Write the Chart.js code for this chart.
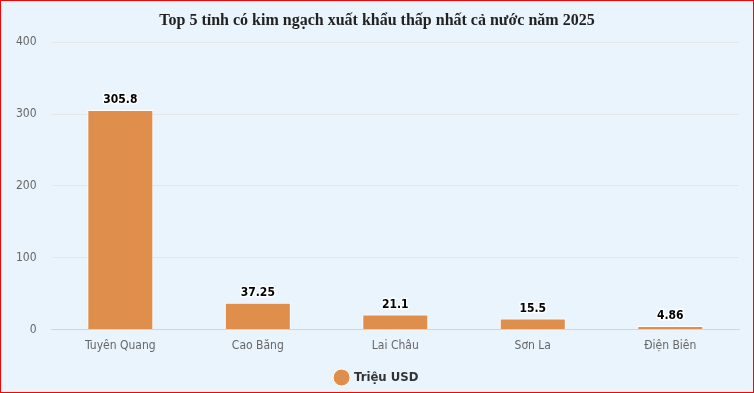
<!DOCTYPE html>
<html>
<head>
<meta charset="utf-8">
<script src="https://cdn.jsdelivr.net/npm/chart.js@4"></script>
<style>
  html, body { margin: 0; padding: 0; }
  body { width: 754px; height: 393px; box-sizing: border-box; border: 1px solid #ff0000; background: #eaf4fd; overflow: hidden; }
  #wrap { width: 752px; height: 393px; }
</style>
</head>
<body>
<div id="wrap"><canvas id="myChart"></canvas></div>
<script>
// DATA
var provinces = ['Tuyên Quang', 'Cao Băng', 'Lai Châu', 'Sơn La', 'Điện Biên'];
var exportValues = [305.8, 37.25, 21.1, 15.5, 4.86];
var yTicks = [0, 100, 200, 300, 400];

var sansFont = '"DejaVu Sans Condensed", "Liberation Sans", sans-serif';

// value labels above bars
var valueLabels = {
  id: 'valueLabels',
  afterDatasetsDraw: function(chart) {
    var c = chart.ctx;
    var meta = chart.getDatasetMeta(0);
    c.save();
    c.font = 'bold 12px ' + sansFont;
    c.textAlign = 'center';
    c.textBaseline = 'bottom';
    c.lineJoin = 'round';
    meta.data.forEach(function(bar, i) {
      var txt = String(chart.data.datasets[0].data[i]);
      c.lineWidth = 3;
      c.strokeStyle = '#ffffff';
      c.strokeText(txt, bar.x, bar.y - 4);
      c.fillStyle = '#000000';
      c.fillText(txt, bar.x, bar.y - 4);
    });
    c.restore();
  }
};

var ctx = document.getElementById('myChart').getContext('2d');

var chart = new Chart(ctx, {
  type: 'bar',
  data: {
    labels: provinces,
    datasets: [{
      label: 'Triệu USD',
      data: exportValues,
      backgroundColor: '#e08e4b',
      borderColor: '#ffffff',
      borderWidth: 1,
      barPercentage: 0.48,
      categoryPercentage: 1
    }]
  },
  options: {
    responsive: true,
    maintainAspectRatio: false,
    animation: false,
    layout: { padding: { left: 14, right: 14, top: 4, bottom: 0 } },
    plugins: {
      title: {
        display: true,
        text: 'Top 5 tỉnh có kim ngạch xuất khẩu thấp nhất cả nước năm 2025',
        color: '#222222',
        font: { family: '"Liberation Serif", serif', size: 16, weight: 'bold' },
        padding: { top: 6, bottom: 12 }
      },
      legend: {
        position: 'bottom',
        labels: {
          usePointStyle: true,
          pointStyle: 'circle',
          boxWidth: 12,
          boxHeight: 12,
          color: '#333333',
          font: { family: sansFont, size: 13, weight: 'bold' },
          padding: 3
        }
      },
      tooltip: { enabled: false }
    },
    scales: {
      x: {
        grid: { display: false },
        border: { color: '#ccd6eb' },
        ticks: { color: '#666666', font: { family: sansFont, size: 12 }, padding: 1 },
        afterFit: function(axis) { axis.height += 14; }
      },
      y: {
        min: 0,
        max: 400,
        afterBuildTicks: function(axis) {
          axis.ticks = yTicks.map(function(v) { return { value: v }; });
        },
        afterFit: function(axis) { axis.width -= 14; },
        grid: { color: '#e6e6e6', drawTicks: false },
        border: { display: false },
        ticks: { color: '#666666', font: { family: sansFont, size: 12 }, padding: 15 }
      }
    }
  },
  plugins: [valueLabels]
});
</script>
</body>
</html>
